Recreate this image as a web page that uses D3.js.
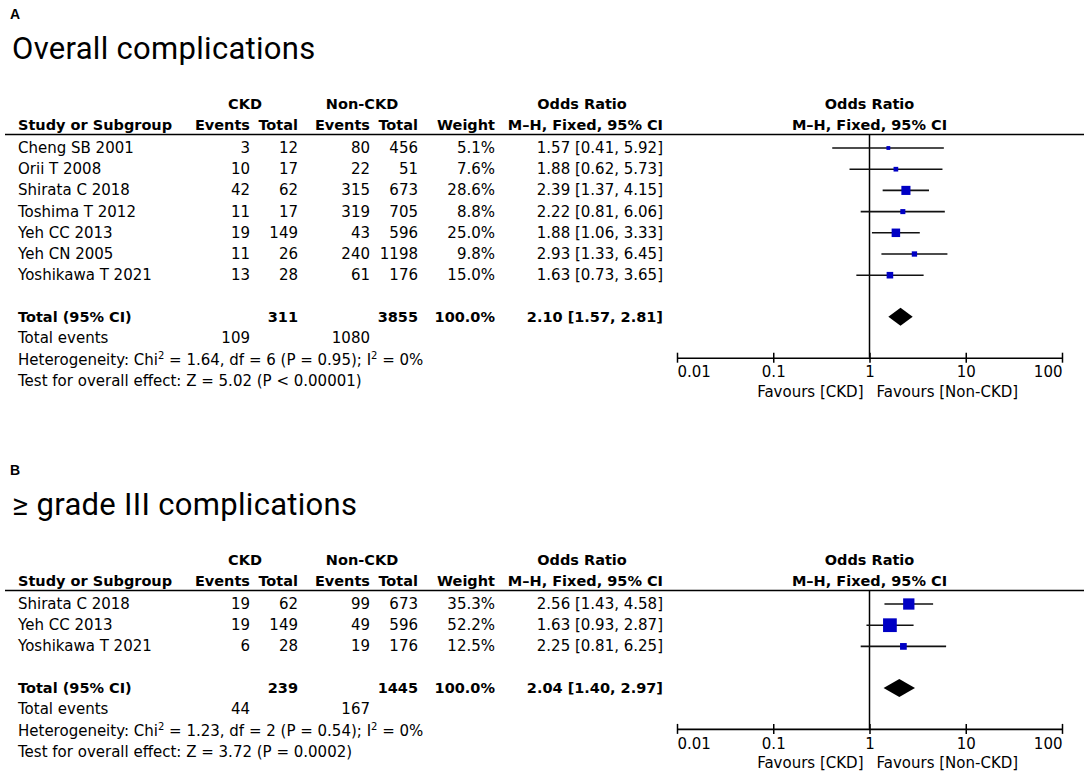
<!DOCTYPE html>
<html>
<head>
<meta charset="utf-8">
<script src="https://cdn.jsdelivr.net/npm/d3@7"></script>
<style>
  body { margin: 0; background: #fff; }
  text { font-family: "DejaVu Sans", Verdana, sans-serif; font-size: 15px; fill: #000; }
  .bold { font-weight: bold; font-size: 14.5px; }
  .panel-letter { font-family: "Liberation Sans", Arial, sans-serif; font-weight: bold; font-size: 14px; }
  .title { font-family: Roboto, "Noto Sans", sans-serif; font-size: 31px; letter-spacing: 0.3px; }
</style>
</head>
<body>
<div id="chart"></div>
<script>
// panel A: overall complications
const studiesA = ["Cheng SB 2001", "Orii T 2008", "Shirata C 2018", "Toshima T 2012", "Yeh CC 2013", "Yeh CN 2005", "Yoshikawa T 2021"];
const ckdEventsA = [3, 10, 42, 11, 19, 11, 13];
const ckdTotalA = [12, 17, 62, 17, 149, 26, 28];
const nonEventsA = [80, 22, 315, 319, 43, 240, 61];
const nonTotalA = [456, 51, 673, 705, 596, 1198, 176];
const weightA = [5.1, 7.6, 28.6, 8.8, 25.0, 9.8, 15.0];
const orA = [1.57, 1.88, 2.39, 2.22, 1.88, 2.93, 1.63];
const lowA = [0.41, 0.62, 1.37, 0.81, 1.06, 1.33, 0.73];
const highA = [5.92, 5.73, 4.15, 6.06, 3.33, 6.45, 3.65];
const totalA = { ckdTotal: 311, nonTotal: 3855, or: 2.10, low: 1.57, high: 2.81, ckdEvents: 109, nonEvents: 1080 };
const statsA = { chi2: "1.64", df: 6, p: "0.95", i2: "0", z: "5.02", pz: "P < 0.00001" };

// panel B: >= grade III complications
const studiesB = ["Shirata C 2018", "Yeh CC 2013", "Yoshikawa T 2021"];
const ckdEventsB = [19, 19, 6];
const ckdTotalB = [62, 149, 28];
const nonEventsB = [99, 49, 19];
const nonTotalB = [673, 596, 176];
const weightB = [35.3, 52.2, 12.5];
const orB = [2.56, 1.63, 2.25];
const lowB = [1.43, 0.93, 0.81];
const highB = [4.58, 2.87, 6.25];
const totalB = { ckdTotal: 239, nonTotal: 1445, or: 2.04, low: 1.40, high: 2.97, ckdEvents: 44, nonEvents: 167 };
const statsB = { chi2: "1.23", df: 2, p: "0.54", i2: "0", z: "3.72", pz: "P = 0.0002" };

const tickValues = [0.01, 0.1, 1, 10, 100];
const tickLabels = ["0.01", "0.1", "1", "10", "100"];

const width = 1084, height = 781;
const svg = d3.select("#chart").append("svg")
  .attr("width", width)
  .attr("height", height);

// column right edges
const col = { study: 18, ckdEv: 250, ckdTot: 298, nonEv: 370, nonTot: 418, weight: 495, or: 663 };
const rowH = 21.2;

const x = d3.scaleLog().domain([0.01, 100]).range([677, 1062]);

function fmt(v) { return v.toFixed(2); }
function ciText(o, l, h) { return `${fmt(o)} [${fmt(l)}, ${fmt(h)}]`; }

function drawPanel(p) {
  const g = svg.append("g").attr("transform", `translate(0,${p.offset})`);
  const n = p.studies.length;

  g.append("text").attr("class", "panel-letter").attr("x", 10).attr("y", 19).text(p.letter);
  g.append("text").attr("class", "title").attr("x", 12).attr("y", 59).text(p.title);

  // header rows
  const h1 = 109, h2 = 130, lineY = 134.5;
  g.append("text").attr("class", "bold").attr("x", 245).attr("y", h1).attr("text-anchor", "middle").text("CKD");
  g.append("text").attr("class", "bold").attr("x", 362).attr("y", h1).attr("text-anchor", "middle").text("Non-CKD");
  g.append("text").attr("class", "bold").attr("x", 582).attr("y", h1).attr("text-anchor", "middle").text("Odds Ratio");
  g.append("text").attr("class", "bold").attr("x", x(1)).attr("y", h1).attr("text-anchor", "middle").text("Odds Ratio");

  g.append("text").attr("class", "bold").attr("x", col.study).attr("y", h2).text("Study or Subgroup");
  const heads = [["Events", col.ckdEv], ["Total", col.ckdTot], ["Events", col.nonEv], ["Total", col.nonTot],
    ["Weight", col.weight], ["M\u2013H, Fixed, 95% CI", col.or]];
  heads.forEach(h => {
    g.append("text").attr("class", "bold").attr("x", h[1]).attr("y", h2).attr("text-anchor", "end").text(h[0]);
  });
  g.append("text").attr("class", "bold").attr("x", x(1)).attr("y", h2).attr("text-anchor", "middle").text("M\u2013H, Fixed, 95% CI");

  g.append("line")
    .attr("x1", 5).attr("x2", width)
    .attr("y1", lineY).attr("y2", lineY)
    .attr("stroke", "#000").attr("stroke-width", 1.6);

  const rowY = i => 148 + i * rowH;
  const idx = d3.range(n);

  // study rows
  const rows = g.selectAll(".row").data(idx).enter().append("g")
    .attr("class", "row")
    .attr("transform", i => `translate(0,${rowY(i) + 5})`);
  rows.append("text").attr("x", col.study).text(i => p.studies[i]);
  rows.append("text").attr("x", col.ckdEv).attr("text-anchor", "end").text(i => p.ckdEvents[i]);
  rows.append("text").attr("x", col.ckdTot).attr("text-anchor", "end").text(i => p.ckdTotal[i]);
  rows.append("text").attr("x", col.nonEv).attr("text-anchor", "end").text(i => p.nonEvents[i]);
  rows.append("text").attr("x", col.nonTot).attr("text-anchor", "end").text(i => p.nonTotal[i]);
  rows.append("text").attr("x", col.weight).attr("text-anchor", "end").text(i => p.weight[i].toFixed(1) + "%");
  rows.append("text").attr("x", col.or).attr("text-anchor", "end").text(i => ciText(p.or[i], p.low[i], p.high[i]));

  // totals
  const totY = rowY(n - 1) + 41.5;
  const t = p.total;
  g.append("text").attr("class", "bold").attr("x", col.study).attr("y", totY + 5).text("Total (95% CI)");
  g.append("text").attr("class", "bold").attr("x", col.ckdTot).attr("y", totY + 5).attr("text-anchor", "end").text(t.ckdTotal);
  g.append("text").attr("class", "bold").attr("x", col.nonTot).attr("y", totY + 5).attr("text-anchor", "end").text(t.nonTotal);
  g.append("text").attr("class", "bold").attr("x", col.weight).attr("y", totY + 5).attr("text-anchor", "end").text("100.0%");
  g.append("text").attr("class", "bold").attr("x", col.or).attr("y", totY + 5).attr("text-anchor", "end").text(ciText(t.or, t.low, t.high));

  const evY = totY + 21.5, hetY = totY + 43, testY = totY + 64.5;
  g.append("text").attr("x", col.study).attr("y", evY + 5).text("Total events");
  g.append("text").attr("x", col.ckdEv).attr("y", evY + 5).attr("text-anchor", "end").text(t.ckdEvents);
  g.append("text").attr("x", col.nonEv).attr("y", evY + 5).attr("text-anchor", "end").text(t.nonEvents);

  const s = p.stats;
  const het = g.append("text").attr("x", col.study).attr("y", hetY + 5);
  het.append("tspan").text("Heterogeneity: Chi");
  het.append("tspan").attr("dy", -6).style("font-size", "10px").text("2");
  het.append("tspan").attr("dy", 6).text(` = ${s.chi2}, df = ${s.df} (P = ${s.p}); I`);
  het.append("tspan").attr("dy", -6).style("font-size", "10px").text("2");
  het.append("tspan").attr("dy", 6).text(` = ${s.i2}%`);
  g.append("text").attr("x", col.study).attr("y", testY + 5).text(`Test for overall effect: Z = ${s.z} (${s.pz})`);

  // forest plot
  const axisY = hetY - 2;
  const size = d3.scaleSqrt().domain([0, 100]).range([0, p.boxMax]);

  g.append("line")
    .attr("x1", x(1)).attr("x2", x(1))
    .attr("y1", lineY).attr("y2", axisY)
    .attr("stroke", "#000").attr("stroke-width", 1.5);

  g.selectAll(".ci").data(idx).enter().append("line")
    .attr("class", "ci")
    .attr("x1", i => x(p.low[i])).attr("x2", i => x(p.high[i]))
    .attr("y1", rowY).attr("y2", rowY)
    .attr("stroke", "#111").attr("stroke-width", 1.6);

  g.selectAll(".box").data(idx).enter().append("rect")
    .attr("class", "box")
    .attr("x", i => x(p.or[i]) - size(p.weight[i]) / 2)
    .attr("y", i => rowY(i) - size(p.weight[i]) / 2)
    .attr("width", i => size(p.weight[i]))
    .attr("height", i => size(p.weight[i]))
    .attr("fill", "#0000c4");

  const dh = 9;
  g.append("path")
    .attr("d", `M${x(t.low)},${totY}L${x(t.or)},${totY - dh}L${x(t.high)},${totY}L${x(t.or)},${totY + dh}Z`)
    .attr("fill", "#000");

  const axis = d3.axisBottom(x)
    .tickValues(tickValues)
    .tickFormat((d, i) => tickLabels[i])
    .tickSize(5)
    .tickSizeOuter(0);
  const ax = g.append("g").attr("transform", `translate(0,${axisY})`).call(axis);
  ax.select(".domain").attr("stroke", "#000").attr("stroke-width", 1.6);
  ax.selectAll(".tick line").attr("y1", -5).attr("y2", 5).attr("stroke-width", 1.5);
  ax.selectAll(".tick text")
    .attr("y", 9)
    .style("font-family", "\"DejaVu Sans\", Verdana, sans-serif")
    .style("font-size", "15px")
    .attr("text-anchor", (d, i) => i === 0 ? "start" : (i === tickValues.length - 1 ? "end" : "middle"));

  g.append("text").attr("x", x(1) - 6).attr("y", axisY + 39).attr("text-anchor", "end").text("Favours [CKD]");
  g.append("text").attr("x", x(1) + 7).attr("y", axisY + 39).text("Favours [Non-CKD]");
}

drawPanel({
  offset: 0, letter: "A", title: "Overall complications",
  studies: studiesA, ckdEvents: ckdEventsA, ckdTotal: ckdTotalA, nonEvents: nonEventsA, nonTotal: nonTotalA,
  weight: weightA, or: orA, low: lowA, high: highA, total: totalA, stats: statsA, boxMax: 17
});

drawPanel({
  offset: 456, letter: "B", title: "\u2265 grade III complications",
  studies: studiesB, ckdEvents: ckdEventsB, ckdTotal: ckdTotalB, nonEvents: nonEventsB, nonTotal: nonTotalB,
  weight: weightB, or: orB, low: lowB, high: highB, total: totalB, stats: statsB, boxMax: 19
});
</script>
</body>
</html>
